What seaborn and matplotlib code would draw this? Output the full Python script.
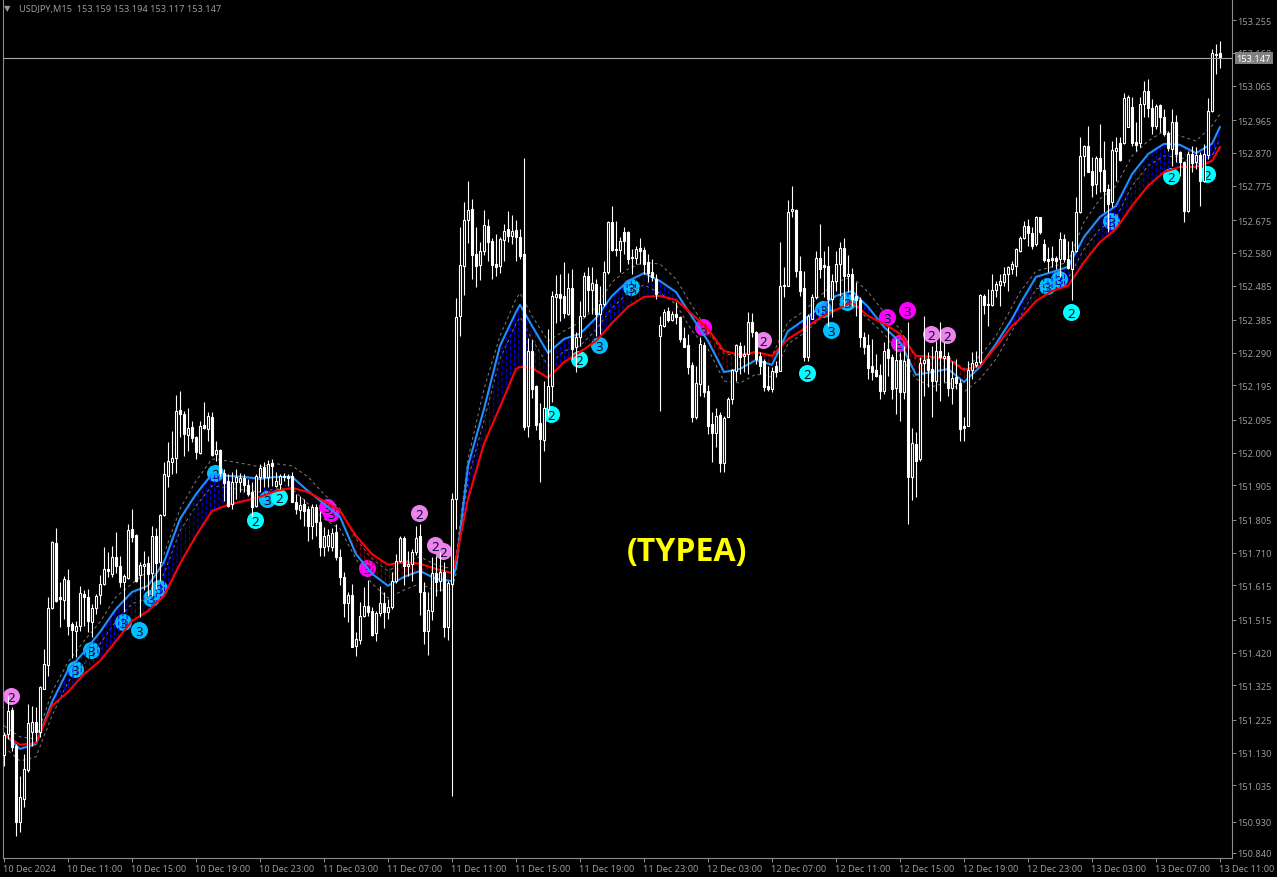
import numpy as np
import pandas as pd
import matplotlib
matplotlib.use("Agg")
import matplotlib.pyplot as plt
import matplotlib.hatch as mhatch
from matplotlib.path import Path
from matplotlib.transforms import ScaledTranslation
import seaborn as sns

# Prices are kept as thousandths of a yen above 150.000
PRICE_BASE = 150.0

bar_open = [
 1124,1184,1254,1150,929,996,1080,1190,1219,1190,
 1315,1385,1550,1738,1582,1573,1631,1504,1483,1498,
 1590,1582,1509,1550,1588,1620,1663,1649,1698,1672,
 1625,1637,1779,1762,1646,1672,1680,1651,1759,1683,
 1820,1933,1973,1985,2124,2112,2052,2075,2046,1999,
 2081,2069,2104,1996,2008,1941,1918,1852,1915,1915,
 1927,1907,1886,1846,1930,1959,1930,1970,1904,1910,
 1933,1933,1933,1857,1834,1852,1837,1788,1843,1799,
 1727,1730,1727,1770,1698,1640,1564,1588,1440,1457,
 1527,1556,1541,1477,1535,1564,1538,1553,1628,1686,
 1753,1672,1678,1712,1759,1596,1483,1541,1651,1628,
 1654,1495,1620,1866,2397,2542,2675,2707,2576,2545,
 2585,2658,2614,2548,2542,2617,2649,2629,2646,2626,
 2576,2078,2295,2194,2086,2037,2127,2194,2452,2461,
 2455,2402,2478,2307,2336,2397,2513,2472,2489,2402,
 2431,2524,2669,2591,2588,2640,2640,2568,2565,2594,
 2588,2553,2524,2504,2339,2368,2411,2385,2402,2394,
 2333,2313,2255,2104,2200,2313,2179,2084,2057,2110,
 1970,2104,2156,2237,2310,2281,2287,2379,2350,2281,
 2266,2194,2185,2252,2237,2484,2484,2701,2704,2527,
 2478,2278,2388,2452,2565,2545,2542,2446,2498,2548,
 2594,2513,2518,2455,2443,2336,2313,2252,2240,2226,
 2179,2301,2278,2188,2269,2176,2272,1930,2026,1982,
 2260,2272,2243,2208,2295,2275,2281,2188,2220,2202,
 2078,2078,2240,2255,2263,2455,2429,2429,2472,2487,
 2495,2518,2533,2542,2585,2623,2658,2637,2606,2684,
 2606,2562,2565,2565,2562,2620,2562,2533,2585,2698,
 2861,2890,2817,2780,2855,2820,2765,2727,2875,2898,
 2898,2945,3003,2901,2898,3012,3049,3000,2948,3009,
 2974,2927,2881,2959,2872,2843,2701,2866,2843,2864,
 2788,2864,2991,3154,3159]
bar_close = [
 1182,1251,1147,929,1002,1083,1216,1219,1190,1321,
 1388,1550,1741,1570,1576,1634,1498,1486,1498,1593,
 1582,1512,1550,1585,1620,1663,1657,1698,1672,1625,
 1643,1776,1756,1628,1675,1678,1649,1759,1680,1820,
 1938,1976,1985,2121,2112,2054,2072,2043,2002,2078,
 2072,2107,1994,2008,1941,1912,1846,1915,1930,1927,
 1907,1880,1843,1933,1956,1930,1968,1962,1918,1933,
 1930,1927,1857,1837,1849,1831,1788,1843,1799,1727,
 1759,1762,1767,1698,1640,1564,1588,1437,1460,1527,
 1556,1538,1472,1535,1564,1538,1553,1628,1686,1753,
 1672,1678,1712,1753,1596,1483,1544,1651,1625,1654,
 1495,1622,1866,2394,2545,2675,2704,2574,2542,2585,
 2661,2611,2545,2539,2620,2643,2629,2643,2626,2571,
 2075,2295,2185,2081,2040,2130,2194,2455,2461,2449,
 2405,2478,2301,2336,2397,2513,2472,2492,2402,2431,
 2524,2669,2588,2588,2614,2614,2562,2565,2591,2585,
 2548,2521,2510,2460,2371,2408,2385,2402,2394,2330,
 2307,2249,2104,2202,2316,2176,2078,2057,2107,1970,
 2101,2156,2240,2313,2278,2287,2379,2350,2272,2252,
 2191,2185,2237,2234,2484,2487,2698,2707,2527,2469,
 2278,2397,2452,2565,2533,2539,2446,2498,2548,2594,
 2513,2518,2446,2443,2336,2307,2246,2234,2223,2179,
 2295,2275,2185,2269,2176,2266,1930,2028,1976,2260,
 2269,2240,2208,2295,2278,2281,2188,2217,2202,2069,
 2072,2240,2260,2263,2458,2429,2432,2472,2489,2498,
 2518,2539,2548,2591,2623,2658,2637,2600,2684,2640,
 2559,2556,2559,2556,2620,2562,2536,2585,2698,2861,
 2890,2814,2777,2855,2817,2759,2722,2878,2884,2849,
 3029,3032,2898,2893,3012,3049,3000,2948,3006,2974,
 2924,2884,2959,2866,2843,2701,2866,2840,2864,2788,
 2866,2991,3159,3156,3147]
bar_high = [
 1190,1295,1263,1155,1063,1127,1272,1266,1263,1324,
 1431,1582,1744,1782,1625,1643,1663,1509,1512,1614,
 1602,1605,1562,1590,1646,1727,1712,1730,1770,1701,
 1649,1794,1837,1764,1683,1715,1701,1788,1782,1823,
 1973,2031,2063,2168,2179,2121,2130,2092,2049,2092,
 2147,2118,2118,2034,2011,1953,1938,1944,1953,1941,
 1938,1924,1915,1938,1968,1973,1979,1982,1944,1938,
 1941,1938,1944,1881,1875,1866,1846,1852,1852,1831,
 1785,1779,1782,1794,1721,1654,1596,1620,1480,1567,
 1611,1631,1553,1541,1614,1596,1576,1654,1706,1759,
 1759,1715,1721,1788,1794,1625,1596,1698,1701,1712,
 1683,1628,1883,2449,2655,2727,2788,2736,2655,2611,
 2704,2678,2623,2634,2626,2664,2701,2690,2675,2649,
 2855,2333,2327,2197,2144,2208,2359,2469,2516,2519,
 2553,2521,2533,2350,2440,2524,2539,2539,2504,2484,
 2556,2672,2716,2672,2626,2655,2643,2591,2600,2623,
 2597,2576,2562,2518,2397,2417,2423,2411,2437,2397,
 2365,2344,2263,2252,2336,2321,2197,2118,2130,2118,
 2107,2162,2243,2316,2321,2313,2408,2405,2353,2292,
 2272,2252,2249,2266,2611,2539,2733,2774,2707,2571,
 2527,2403,2461,2585,2664,2585,2600,2518,2585,2611,
 2623,2574,2536,2495,2452,2350,2344,2330,2287,2258,
 2321,2365,2287,2330,2292,2310,2379,2072,2060,2278,
 2397,2292,2310,2324,2379,2321,2292,2266,2272,2214,
 2104,2266,2292,2295,2461,2461,2475,2518,2498,2518,
 2539,2542,2556,2594,2629,2672,2678,2655,2687,2684,
 2620,2597,2600,2571,2640,2634,2614,2614,2742,2916,
 2893,2948,2858,2861,2954,2904,2780,2904,2916,2916,
 3043,3038,3032,2959,3032,3078,3084,3026,3012,3012,
 2997,2933,2997,2980,2875,2846,2875,2890,2887,2872,
 2896,3029,3171,3185,3194]
bar_low = [
 1092,1170,1135,889,900,973,1074,1150,1164,1176,
 1315,1353,1547,1567,1495,1518,1472,1405,1408,1483,
 1498,1480,1466,1532,1562,1617,1640,1640,1651,1611,
 1538,1634,1741,1625,1524,1602,1585,1585,1605,1628,
 1817,1901,1938,1941,2046,1991,2005,2031,1982,1996,
 2069,2034,1991,1976,1933,1860,1843,1837,1866,1886,
 1886,1875,1817,1843,1886,1901,1901,1904,1901,1895,
 1918,1904,1857,1823,1808,1788,1744,1750,1759,1701,
 1701,1715,1715,1689,1617,1524,1509,1437,1411,1445,
 1524,1527,1469,1454,1527,1492,1518,1547,1622,1683,
 1617,1643,1628,1704,1530,1445,1414,1515,1585,1599,
 1466,1457,1005,1779,2339,2458,2608,2504,2481,2501,
 2574,2556,2504,2513,2521,2556,2611,2606,2556,2562,
 2066,2046,2159,2066,1915,2005,2107,2147,2376,2382,
 2391,2400,2272,2234,2310,2394,2408,2402,2339,2344,
 2426,2518,2585,2571,2524,2576,2548,2518,2548,2548,
 2518,2495,2498,2446,2121,2365,2379,2382,2374,2321,
 2307,2228,2089,2098,2165,2162,2054,1973,2017,1944,
 1944,2104,2141,2208,2228,2234,2228,2336,2258,2228,
 2179,2179,2176,2220,2237,2452,2484,2684,2510,2455,
 2266,2266,2388,2446,2507,2452,2368,2394,2469,2455,
 2426,2466,2426,2397,2307,2287,2214,2211,2220,2156,
 2170,2223,2156,2112,2092,2156,1794,1863,1872,1976,
 2165,2191,2104,2179,2150,2205,2165,2141,2185,2034,
 2034,2078,2214,2249,2258,2402,2368,2426,2452,2426,
 2484,2469,2518,2513,2582,2620,2600,2591,2600,2635,
 2553,2524,2539,2533,2510,2553,2533,2443,2582,2695,
 2803,2814,2742,2751,2756,2698,2640,2713,2788,2846,
 2896,2945,2890,2875,2887,2974,2974,2924,2939,2930,
 2919,2875,2832,2843,2803,2669,2698,2814,2823,2716,
 2785,2852,2988,3098,3117]

# Bars at which the indicator lines were read
line_bars = (list(range(0, 113, 4)) + [113, 116, 120, 124, 128, 129]
             + list(range(132, 253, 4)) + list(range(254, 303, 4)) + [304])
line_blue = [
 1185,1141,1155,1277,1370,1422,1480,1547,1596,1614,1683,1808,1880,1938,1933,1930,1924,1930,1930,1889,
 1852,1814,1706,1649,1614,1640,1657,1634,1628,
 1669,1962,2127,2310,2408,2429,2368,2289,2330,2345,2391,2455,2498,2521,2498,2466,2394,2324,2234,2243,
 2269,2255,2353,2385,2423,2455,2469,2423,2365,2321,2226,2234,2243,2205,2249,2316,2388,2431,2510,2524,
 2539,2626,2684,2716,2808,2866,2896,2893,2869,2896,2945]
line_red = [
 1182,1153,1158,1266,1306,1358,1396,1454,1512,1541,1585,1678,1759,1831,1849,1860,1872,1889,1898,1886,
 1860,1831,1759,1706,1675,1683,1678,1663,1651,
 1692,1866,2026,2133,2243,2249,2246,2217,2263,2292,2324,2376,2423,2452,2455,2443,2402,2359,2295,2284,
 2292,2281,2330,2359,2391,2414,2437,2397,2374,2345,2281,2278,2272,2240,2252,2307,2368,2388,2440,2469,
 2484,2553,2611,2649,2716,2774,2814,2829,2829,2846,2887]
line_upper = [
 1208,1176,1170,1306,1393,1454,1509,1582,1620,1657,1706,1837,1918,1982,1976,1968,1959,1968,1962,1930,
 1880,1837,1750,1692,1657,1683,1698,1675,1663,
 1698,1982,2185,2339,2446,2463,2397,2324,2353,2379,2423,2495,2533,2553,2547,2504,2426,2353,2287,2281,
 2292,2281,2379,2411,2455,2495,2510,2466,2408,2359,2272,2272,2278,2243,2281,2339,2423,2466,2527,2539,
 2553,2669,2736,2774,2861,2904,2933,2919,2904,2948,2982]
line_lower = [
 1147,1106,1118,1237,1335,1387,1446,1512,1562,1579,1649,1773,1846,1904,1898,1892,1886,1895,1895,1852,
 1808,1779,1692,1620,1579,1602,1620,1599,1605,
 1649,1924,2092,2272,2374,2394,2330,2252,2295,2310,2356,2420,2463,2487,2463,2431,2353,2301,2208,2202,
 2228,2220,2316,2347,2388,2417,2434,2388,2345,2281,2214,2191,2205,2176,2214,2272,2353,2394,2475,2490,
 2504,2591,2649,2681,2774,2832,2861,2858,2835,2861,2910]

# Numbered signal badges: bar, price
pink_bars = [2, 104, 108, 110, 190, 232, 236]
pink_vals = [1298, 1828, 1736, 1718, 2330, 2347, 2345]
magenta_bars = [81, 82, 91, 175, 221, 226, 224]
magenta_vals = [1846, 1828, 1669, 2368, 2397, 2417, 2321]
sky_bars = [18, 22, 30, 34, 37, 39, 53, 66, 149, 157, 205, 207, 211, 261, 264, 277]
sky_vals = [1376, 1431, 1512, 1489, 1582, 1611, 1944, 1869, 2315, 2484, 2420, 2359, 2440, 2487, 2507, 2675]
cyan_bars = [63, 69, 137, 144, 201, 267, 292, 301]
cyan_vals = [1808, 1875, 2115, 2275, 2234, 2411, 2806, 2811]

price_ticks = [153.255, 153.160, 153.065, 152.965, 152.870, 152.775, 152.675, 152.580, 152.485,
               152.385, 152.290, 152.195, 152.095, 152.000, 151.905, 151.805, 151.710, 151.615,
               151.515, 151.420, 151.325, 151.225, 151.130, 151.035, 150.930, 150.840]
time_labels = ["10 Dec 2024", "10 Dec 11:00", "10 Dec 15:00", "10 Dec 19:00", "10 Dec 23:00",
               "11 Dec 03:00", "11 Dec 07:00", "11 Dec 11:00", "11 Dec 15:00", "11 Dec 19:00",
               "11 Dec 23:00", "12 Dec 03:00", "12 Dec 07:00", "12 Dec 11:00", "12 Dec 15:00",
               "12 Dec 19:00", "12 Dec 23:00", "13 Dec 03:00", "13 Dec 07:00", "13 Dec 11:00"]
header_text = "USDJPY,M15  153.159 153.194 153.117 153.147"
last_label = "153.147"
bid_line_price = 153.144
watermark = "(TYPEA)"


def px(values):
    return PRICE_BASE + np.asarray(values, dtype=float) / 1000.0


# The cloud is a pattern of short staggered vertical dashes
class DashColumns(mhatch.HatchPatternBase):
    cols, rows = 24, 16

    def __init__(self, hatch, density):
        self.on = hatch.count("|") > 0
        self.num_vertices = self.cols * self.rows * 2 if self.on else 0

    def set_vertices_and_codes(self, vertices, codes):
        if not self.on:
            return
        k = 0
        for c in range(self.cols):
            for r in range(self.rows):
                y0 = (r + (c % 2) * 0.5) / self.rows
                vertices[k] = ((c + 0.5) / self.cols, y0)
                vertices[k + 1] = ((c + 0.5) / self.cols, y0 + 0.5 / self.rows)
                codes[k] = Path.MOVETO
                codes[k + 1] = Path.LINETO
                k += 2


mhatch._hatch_types = [DashColumns]

sns.set_theme(style="dark", rc={"axes.facecolor": "black", "figure.facecolor": "black",
                                "hatch.linewidth": 0.72, "axes.grid": False})
plt.rcParams["font.family"] = ["Noto Sans", "DejaVu Sans"]

W, H = 1277, 878
fig = plt.figure(figsize=(W / 100, H / 100), dpi=100)
ax = fig.add_axes([3.0 / W, 1 - 858.5 / H, 1228.5 / W, 858.5 / H])
ax.set_xlim(-0.25, 306.875)
ax.set_ylim(150.826, 153.316)

GRAY = "#8c8c8c"
TXT = "#9a9a9a"

frame = pd.DataFrame({"bar": np.arange(len(bar_open)), "open": px(bar_open), "high": px(bar_high),
                      "low": px(bar_low), "close": px(bar_close)})
lines = pd.DataFrame({"bar": line_bars, "blue": px(line_blue), "red": px(line_red),
                      "upper": px(line_upper), "lower": px(line_lower)})

# Badges sit beneath everything else
badge_shift = ScaledTranslation(-1 / 100, -1 / 100, fig.dpi_scale_trans)
for bars, vals, col, num in [(pink_bars, pink_vals, "#EE82EE", "2"),
                             (magenta_bars, magenta_vals, "#FF00FF", "3"),
                             (sky_bars, sky_vals, "#00BFFF", "3"),
                             (cyan_bars, cyan_vals, "#00FFFF", "2")]:
    dots = sns.scatterplot(x=bars, y=px(vals), color=col, s=150, linewidth=0, ax=ax, zorder=1)
    ax.collections[-1].set_offset_transform(ax.transData + badge_shift)
    for b, v in zip(bars, px(vals)):
        ax.text(b, v, num, color="#0c0c28", fontsize=9.5, fontweight="bold",
                ha="center", va="center_baseline", zorder=1.5,
                transform=ax.transData + badge_shift)

# Dashed envelope
for col in ["upper", "lower"]:
    sns.lineplot(data=lines, x="bar", y=col, color="#7a7a7a", linewidth=0.72,
                 linestyle=(0, (3, 3)), estimator=None, sort=False, ax=ax, zorder=2)

# Dotted cloud between the two averages
b_arr, r_arr = lines["blue"].values, lines["red"].values
ax.fill_between(lines["bar"], b_arr, r_arr, where=b_arr >= r_arr, interpolate=True,
                facecolor="none", edgecolor="#0000FF", hatch="|", linewidth=0, zorder=3)
ax.fill_between(lines["bar"], b_arr, r_arr, where=b_arr <= r_arr, interpolate=True,
                facecolor="none", edgecolor="#8B0000", hatch="|", linewidth=0, zorder=3)

sns.lineplot(data=lines, x="bar", y="blue", color="#1E90FF", linewidth=1.5,
             estimator=None, sort=False, ax=ax, zorder=4)
sns.lineplot(data=lines, x="bar", y="red", color="#FF0000", linewidth=1.5,
             estimator=None, sort=False, ax=ax, zorder=4.1)

# Candles
ax.vlines(frame["bar"], frame["low"], frame["high"], color="white", linewidth=0.8, zorder=5)
up = frame[frame["close"] >= frame["open"]]
down = frame[frame["close"] < frame["open"]]
ax.bar(up["bar"], up["close"] - up["open"], bottom=up["open"], width=0.5,
       facecolor="black", edgecolor="white", linewidth=0.8, zorder=5.1)
ax.bar(down["bar"], down["open"] - down["close"], bottom=down["close"], width=0.5,
       facecolor="white", edgecolor="white", linewidth=0.8, zorder=5.1)

# Bid line
ax.axhline(bid_line_price, color="#a8a8a8", linewidth=0.8, zorder=6)

# Axes furniture
ax.set_xlabel("")
ax.set_ylabel("")
ax.yaxis.tick_right()
ax.set_yticks(price_ticks)
ax.set_yticklabels([f"{p:.3f}" for p in price_ticks])
ax.set_xticks(np.arange(len(time_labels)) * 16)
ax.set_xticklabels(time_labels, ha="left")
ax.tick_params(axis="y", direction="out", length=3, width=0.72, color=GRAY, labelcolor=TXT,
               labelsize=6.6, pad=1, right=True, left=False)
ax.tick_params(axis="x", direction="out", length=3, width=0.72, color=GRAY, labelcolor=TXT,
               labelsize=6.6, pad=1.5, bottom=True)
label_shift = ScaledTranslation(-1 / 100, 0, fig.dpi_scale_trans)
for lab in ax.get_xticklabels():
    lab.set_transform(lab.get_transform() + label_shift)
for name, spine in ax.spines.items():
    spine.set_color(GRAY)
    spine.set_linewidth(0.8)
    spine.set_visible(name != "top")

ax.annotate(last_label, xy=(1, bid_line_price), xycoords=("axes fraction", "data"),
            xytext=(3.6, 0), textcoords="offset points", ha="left", va="center",
            fontsize=6.6, color="white", annotation_clip=False, zorder=20,
            bbox=dict(boxstyle="square,pad=0.18", facecolor="#808080", edgecolor="none"))

fig.text(19 / W, 1 - 9.5 / H, header_text, color=TXT, fontsize=6.6, ha="left", va="center")
fig.text(7 / W, 1 - 9 / H, "▼", color=TXT, fontsize=6, ha="center", va="center",
         family="DejaVu Sans")
fig.text(687 / W, 1 - 552 / H, watermark, color="#FFFF00", fontsize=23, fontweight="bold",
         family="Open Sans", ha="center", va="center")

fig.savefig("out.png", dpi=100, facecolor="black")
